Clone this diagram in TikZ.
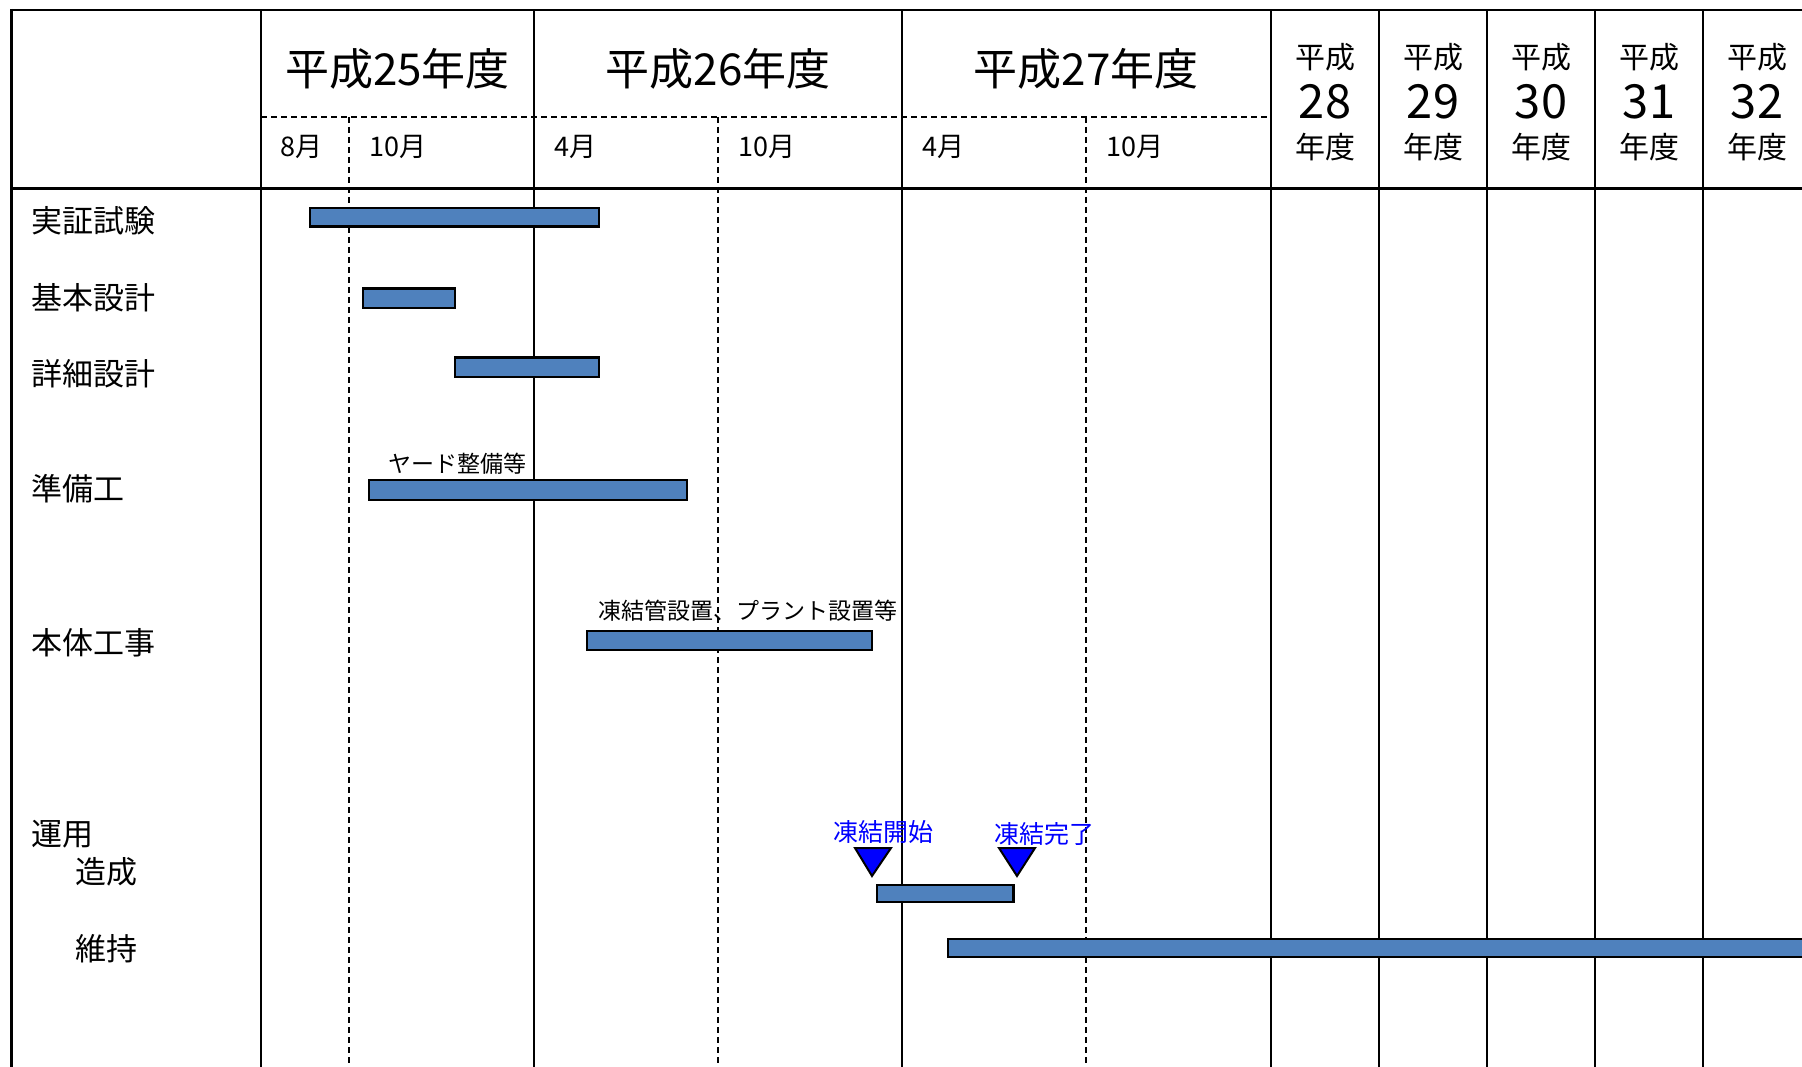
\documentclass[tikz,border=0pt]{standalone}
\usepackage{fontspec}
\setmainfont{Noto Sans CJK JP}
\newfontfamily\jp{Noto Sans CJK JP}
\begin{document}
\begin{tikzpicture}[x=1pt,y=-1pt,
  gridline/.style={line width=1.6pt,black},
  frameline/.style={line width=2.4pt,black},
  dashline/.style={line width=1.2pt,black,dash pattern=on 6pt off 4pt},
  barbox/.style={draw=black,line width=2.4pt,fill=barblue},
  yr/.style={font=\fontsize{44}{48}\selectfont,inner sep=0pt},
  mon/.style={font=\fontsize{27}{30}\selectfont,anchor=west,inner sep=0pt},
  ysm/.style={font=\fontsize{30}{32}\selectfont,inner sep=0pt},
  ybig/.style={font=\fontsize{47}{50}\selectfont,inner sep=0pt},
  rowlab/.style={font=\fontsize{31}{33}\selectfont,anchor=west,inner sep=0pt},
  note/.style={font=\fontsize{23}{25}\selectfont,inner sep=0pt},
  ms/.style={font=\fontsize{25}{27}\selectfont,inner sep=0pt,text=blue},
  tri/.style={draw=black,line width=2pt,fill=blue,line join=miter}]
\definecolor{barblue}{RGB}{79,129,189}
\useasboundingbox (0,0) rectangle (1802,1067);
\clip (0,0) rectangle (1802,1067);
\fill[white] (0,0) rectangle (1802,1067);
% dashed grid
\draw[dashline] (261,117) -- (1271,117);
\foreach \x in {349,718,1086} \draw[dashline] (\x,117) -- (\x,1067);
% solid grid
\foreach \x in {261,534,902,1271,1379,1487,1595,1703} \draw[gridline] (\x,10) -- (\x,1067);
\draw[frameline] (11.5,10) -- (1802,10);
\draw[frameline] (11.5,188.5) -- (1802,188.5);
\draw[frameline] (11.5,9) -- (11.5,1067);
% header years
\node[yr] (y25) at (397.5,69) {平成25年度};
\node[yr] (y26) at (718,69) {平成26年度};
\node[yr] (y27) at (1086,69) {平成27年度};
% months
\node[mon] (m1) at (280,147) {8月};
\node[mon] (m2) at (369,147) {10月};
\node[mon] (m3) at (554,147) {4月};
\node[mon] (m4) at (738,147) {10月};
\node[mon] (m5) at (922,147) {4月};
\node[mon] (m6) at (1106,147) {10月};
% later years
\foreach \c/\n in {1325/28,1433/29,1541/30,1649/31,1757/32}{
  \node[ysm] (h\n a) at (\c,57) {平成};
  \node[ybig] (h\n b) at (\c,102) {\n};
  \node[ysm] (h\n c) at (\c,147) {年度};
}
% row labels
\node[rowlab] (r1) at (31,220.5) {実証試験};
\node[rowlab] (r2) at (31,297.5) {基本設計};
\node[rowlab] (r3) at (31,373.5) {詳細設計};
\node[rowlab] (r4) at (31,488.5) {準備工};
\node[rowlab] (r5) at (31,642.5) {本体工事};
\node[rowlab] (r6) at (31,834) {運用};
\node[rowlab] (r7) at (75,872) {造成};
\node[rowlab] (r8) at (75,949) {維持};
% bars
\draw[barbox] (310,208) rectangle (599,226.5);
\draw[barbox] (363,288.5) rectangle (455,308);
\draw[barbox] (455,357.5) rectangle (599,377);
\draw[barbox] (369,480) rectangle (687,500);
\draw[barbox] (587,631) rectangle (872,650);
\draw[barbox] (877,885) rectangle (1013.5,902);
\draw[barbox] (948,939) rectangle (1830,957);
% notes
\node[note] (n1) at (457.5,464) {ヤード整備等};
\node[note] (n2) at (747.5,611) {凍結管設置、プラント設置等};
% milestones
\node[ms] (s1) at (883.5,832) {凍結開始};
\node[ms] (s2) at (1044,834) {凍結完了};
\draw[tri] (855,848) -- (891,848) -- (872,876) -- cycle;
\draw[tri] (999,848) -- (1035,848) -- (1017,876) -- cycle;
\end{tikzpicture}
\end{document}
